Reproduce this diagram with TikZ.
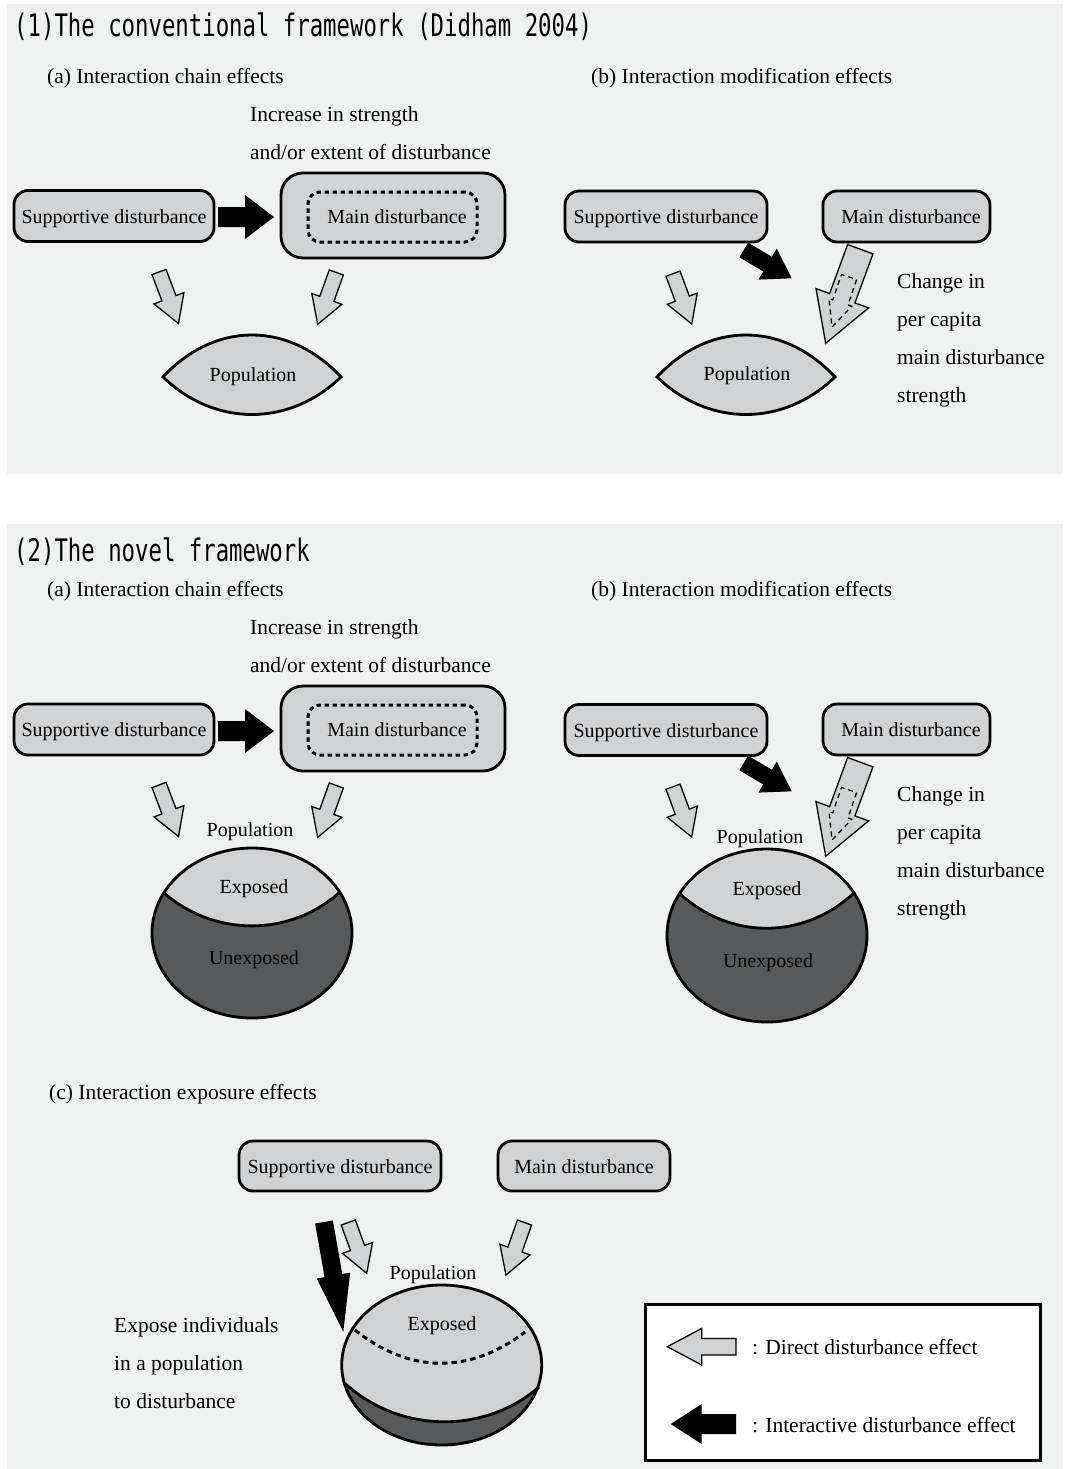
\documentclass[tikz,border=0pt]{standalone}
\usepackage{fontspec}
\setmainfont{Liberation Serif}
\newfontfamily\titlefont[FakeStretch=0.72]{DejaVu Sans Mono}
\usetikzlibrary{calc}
\definecolor{panelbg}{HTML}{EFF0F0}
\definecolor{boxfill}{HTML}{D1D2D4}
\definecolor{darkfill}{HTML}{58595B}
% style, tail, tip, shaft half width, head half width, head length
\newcommand{\blockarrow}[6]{%
  \coordinate (#2hb) at ($(#3)!#6!(#2)$);
  \path[#1] ($(#2)!#4!90:(#3)$) -- ($(#2hb)!#4!90:(#3)$) -- ($(#2hb)!#5!90:(#3)$) -- (#3)
    -- ($(#2hb)!#5!-90:(#3)$) -- ($(#2hb)!#4!-90:(#3)$) -- ($(#2)!#4!-90:(#3)$) -- cycle;}
\tikzset{
  lab/.style={font=\fontsize{20}{24}\selectfont, inner sep=0pt, text height=16.2pt, text depth=1.8pt},
  ann/.style={font=\fontsize{21.5}{26}\selectfont, inner sep=0pt, anchor=west, text height=17.5pt, text depth=2.5pt},
  ttl/.style={font=\titlefont\fontsize{31}{34}\selectfont, inner sep=0pt, anchor=west, yshift=-2pt},
  dbox/.style={draw=black, line width=2.8pt, fill=boxfill, rounded corners=14pt, lab},
  bigbox/.style={draw=black, line width=2.8pt, fill=boxfill, rounded corners=22pt},
  dotbox/.style={draw=black, line width=3pt, dash pattern=on 4.5pt off 3.5pt, rounded corners=12pt},
  garrow/.style={draw=black, line width=1.3pt, fill=boxfill, line join=miter},
  karrow/.style={fill=black},
  innerdash/.style={draw=black, line width=1.3pt, dash pattern=on 5pt off 4pt},
  popline/.style={draw=black, line width=2.8pt},
}
\begin{document}
\begin{tikzpicture}[x=1pt, y=-1pt]
\useasboundingbox (0,0) rectangle (1069,1469);
\fill[white] (0,0) rectangle (1069,1469);
\fill[panelbg] (7,4) rectangle (1063,474);
\fill[panelbg] (7,524) rectangle (1063,1469);

%================ Panel 1 =================
\node[ttl] (t1) at (14,25) {(1)The conventional framework (Didham 2004)};
\node[ann] (h1a) at (47,76) {(a) Interaction chain effects};
\node[ann] (h1b) at (591,76) {(b) Interaction modification effects};
\node[ann] (inc1) at (250,114) {Increase in strength};
\node[ann] (ext1) at (250,152) {and/or extent of disturbance};

% (1a)
\node[dbox, minimum width=200pt, minimum height=51pt] (s1a) at (114,216) {Supportive disturbance};
\node[bigbox, minimum width=224pt, minimum height=85pt] (m1a) at (393,215.5) {};
\node[dotbox, minimum width=169pt, minimum height=50pt] (m1ai) at (392.5,217) {};
\node[lab] (m1at) at (397,216) {Main disturbance};
\coordinate (k1at) at (218,217); \coordinate (k1ah) at (274,217);
\blockarrow{karrow}{k1at}{k1ah}{10pt}{22pt}{29pt}
\coordinate (g1at) at (159,272); \coordinate (g1ah) at (178.5,323.5);
\blockarrow{garrow}{g1at}{g1ah}{7.5pt}{16pt}{27pt}
\coordinate (g2at) at (336.3,272.5); \coordinate (g2ah) at (317.7,324.3);
\blockarrow{garrow}{g2at}{g2ah}{7.5pt}{16pt}{27pt}
\draw[popline, fill=boxfill] (163,377) .. controls (215,321) and (289,321) .. (341,377)
  .. controls (289,427) and (215,427) .. (163,377) -- cycle;
\node[lab] (p1a) at (253,374) {Population};

% (1b)
\node[dbox, minimum width=202pt, minimum height=51pt] (s1b) at (666,216.5) {Supportive disturbance};
\node[dbox, minimum width=167pt, minimum height=51pt] (m1b) at (906.5,216.5) {};
\node[lab] (m1bt) at (911,216.5) {Main disturbance};
\coordinate (k1bt) at (743.7,250); \coordinate (k1bh) at (791.7,278.3);
\blockarrow{karrow}{k1bt}{k1bh}{8.5pt}{18pt}{28pt}
\coordinate (g3at) at (673,273.7); \coordinate (g3ah) at (691.7,324);
\blockarrow{garrow}{g3at}{g3ah}{7.5pt}{16pt}{27pt}
\coordinate (b1t) at (860.3,249.2); \coordinate (b1h) at (825.7,343.3);
\blockarrow{garrow}{b1t}{b1h}{13.5pt}{28pt}{48pt}
\coordinate (d1t) at (849,277); \coordinate (d1h) at (832,327);
\blockarrow{innerdash}{d1t}{d1h}{8pt}{12pt}{26pt}
\draw[popline, fill=boxfill] (657,377) .. controls (709,321) and (783,321) .. (835,377)
  .. controls (783,427) and (709,427) .. (657,377) -- cycle;
\node[lab] (p1b) at (747,373) {Population};
\node[ann] (c1) at (897,281) {Change in};
\node[ann] (c2) at (897,319) {per capita};
\node[ann] (c3) at (897,357) {main disturbance};
\node[ann] (c4) at (897,395) {strength};

%================ Panel 2 =================
\node[ttl] (t2) at (14,550) {(2)The novel framework};
\node[ann] (h2a) at (47,589) {(a) Interaction chain effects};
\node[ann] (h2b) at (591,589) {(b) Interaction modification effects};
\node[ann] (inc2) at (250,627) {Increase in strength};
\node[ann] (ext2) at (250,665) {and/or extent of disturbance};

% (2a)
\node[dbox, minimum width=200pt, minimum height=51pt] (s2a) at (114,729.5) {Supportive disturbance};
\node[bigbox, minimum width=224pt, minimum height=85pt] (m2a) at (393,728.5) {};
\node[dotbox, minimum width=169pt, minimum height=50pt] (m2ai) at (392.5,730) {};
\node[lab] (m2at) at (397,729) {Main disturbance};
\coordinate (k2at) at (218,731); \coordinate (k2ah) at (274,731);
\blockarrow{karrow}{k2at}{k2ah}{10pt}{22pt}{29pt}
\coordinate (g4at) at (159,785); \coordinate (g4ah) at (178.5,836.5);
\blockarrow{garrow}{g4at}{g4ah}{7.5pt}{16pt}{27pt}
\coordinate (g5at) at (336.3,785.5); \coordinate (g5ah) at (317.7,837.3);
\blockarrow{garrow}{g5at}{g5ah}{7.5pt}{16pt}{27pt}
\node[lab] (p2a) at (250,829) {Population};
\fill[darkfill] (252,933) ellipse [x radius=100pt, y radius=85pt];
\begin{scope}
  \clip (252,933) ellipse [x radius=100pt, y radius=85pt];
  \fill[boxfill] (140,830) -- (140,893) -- (164,893) .. controls (215,937) and (290,937) .. (340,892)
    -- (360,892) -- (360,830) -- cycle;
\end{scope}
\draw[popline] (164,893) .. controls (215,937) and (290,937) .. (340,892);
\draw[popline] (252,933) ellipse [x radius=100pt, y radius=85pt];
\node[lab] (e2a) at (254,886) {Exposed};
\node[lab] (u2a) at (254,957) {Unexposed};

% (2b)
\node[dbox, minimum width=202pt, minimum height=51pt] (s2b) at (666,730) {Supportive disturbance};
\node[dbox, minimum width=167pt, minimum height=51pt] (m2b) at (906.5,729.5) {};
\node[lab] (m2bt) at (911,729.5) {Main disturbance};
\coordinate (k2bt) at (743.7,763); \coordinate (k2bh) at (791.7,791.3);
\blockarrow{karrow}{k2bt}{k2bh}{8.5pt}{18pt}{28pt}
\coordinate (g6at) at (673,786.7); \coordinate (g6ah) at (691.7,837);
\blockarrow{garrow}{g6at}{g6ah}{7.5pt}{16pt}{27pt}
\coordinate (b2t) at (860.3,762.2); \coordinate (b2h) at (825.7,856.3);
\blockarrow{garrow}{b2t}{b2h}{13.5pt}{28pt}{48pt}
\coordinate (d2t) at (849,790); \coordinate (d2h) at (832,840);
\blockarrow{innerdash}{d2t}{d2h}{8pt}{12pt}{26pt}
\node[lab] (p2b) at (760,836) {Population};
\fill[darkfill] (767,935.5) ellipse [x radius=100pt, y radius=86.5pt];
\begin{scope}
  \clip (767,935.5) ellipse [x radius=100pt, y radius=86.5pt];
  \fill[boxfill] (650,830) -- (650,893) -- (679,893) .. controls (730,940) and (803,940) .. (854,893)
    -- (880,893) -- (880,830) -- cycle;
\end{scope}
\draw[popline] (679,893) .. controls (730,940) and (803,940) .. (854,893);
\draw[popline] (767,935.5) ellipse [x radius=100pt, y radius=86.5pt];
\node[lab] (e2b) at (767,888) {Exposed};
\node[lab] (u2b) at (768,960) {Unexposed};
\node[ann] (c5) at (897,794) {Change in};
\node[ann] (c6) at (897,832) {per capita};
\node[ann] (c7) at (897,870) {main disturbance};
\node[ann] (c8) at (897,908) {strength};

% (2c)
\node[ann] (h2c) at (49,1092) {(c) Interaction exposure effects};
\node[dbox, minimum width=202pt, minimum height=50pt] (sc) at (340,1166) {Supportive disturbance};
\node[dbox, minimum width=172pt, minimum height=50pt] (mc) at (584,1166) {Main disturbance};
\coordinate (kct) at (324,1222); \coordinate (kch) at (343.3,1331.7);
\blockarrow{karrow}{kct}{kch}{9pt}{17pt}{57pt}
\coordinate (g7at) at (348.3,1222.5); \coordinate (g7ah) at (366.7,1273.3);
\blockarrow{garrow}{g7at}{g7ah}{7.5pt}{16pt}{27pt}
\coordinate (g8at) at (524.5,1222.5); \coordinate (g8ah) at (506,1275);
\blockarrow{garrow}{g8at}{g8ah}{7.5pt}{16pt}{27pt}
\node[lab] (pc) at (433,1272) {Population};
\fill[darkfill] (441.7,1365) ellipse [x radius=100pt, y radius=80pt];
\begin{scope}
  \clip (441.7,1365) ellipse [x radius=100pt, y radius=80pt];
  \fill[boxfill] (330,1270) -- (330,1383) -- (344.5,1383) .. controls (400,1434) and (485,1434) .. (539,1387)
    -- (555,1387) -- (555,1270) -- cycle;
\end{scope}
\draw[popline] (344.5,1383) .. controls (400,1434) and (485,1434) .. (539,1387);
\draw[draw=black, line width=3pt, dash pattern=on 5.5pt off 4pt] (355,1330) .. controls (410,1374) and (470,1374) .. (525,1332);
\draw[popline] (441.7,1365) ellipse [x radius=100pt, y radius=80pt];
\node[lab] (ec) at (442,1323) {Exposed};
\node[ann] (x1) at (114,1325) {Expose individuals};
\node[ann] (x2) at (114,1363) {in a population};
\node[ann] (x3) at (114,1401) {to disturbance};

% legend
\node[draw=black, line width=3pt, fill=white, minimum width=395pt, minimum height=156pt, inner sep=0pt] (leg) at (842.5,1382) {};
\coordinate (lgt) at (736,1346.7); \coordinate (lgh) at (667.3,1346.7);
\blockarrow{garrow}{lgt}{lgh}{8.3pt}{18.3pt}{34.4pt}
\coordinate (lkt) at (736,1424); \coordinate (lkh) at (670.7,1424);
\blockarrow{karrow}{lkt}{lkh}{10pt}{20pt}{31pt}
\node[ann] (l1) at (752,1347) {: Direct disturbance effect};
\node[ann] (l2) at (752,1425) {: Interactive disturbance effect};
\end{tikzpicture}
\end{document}
